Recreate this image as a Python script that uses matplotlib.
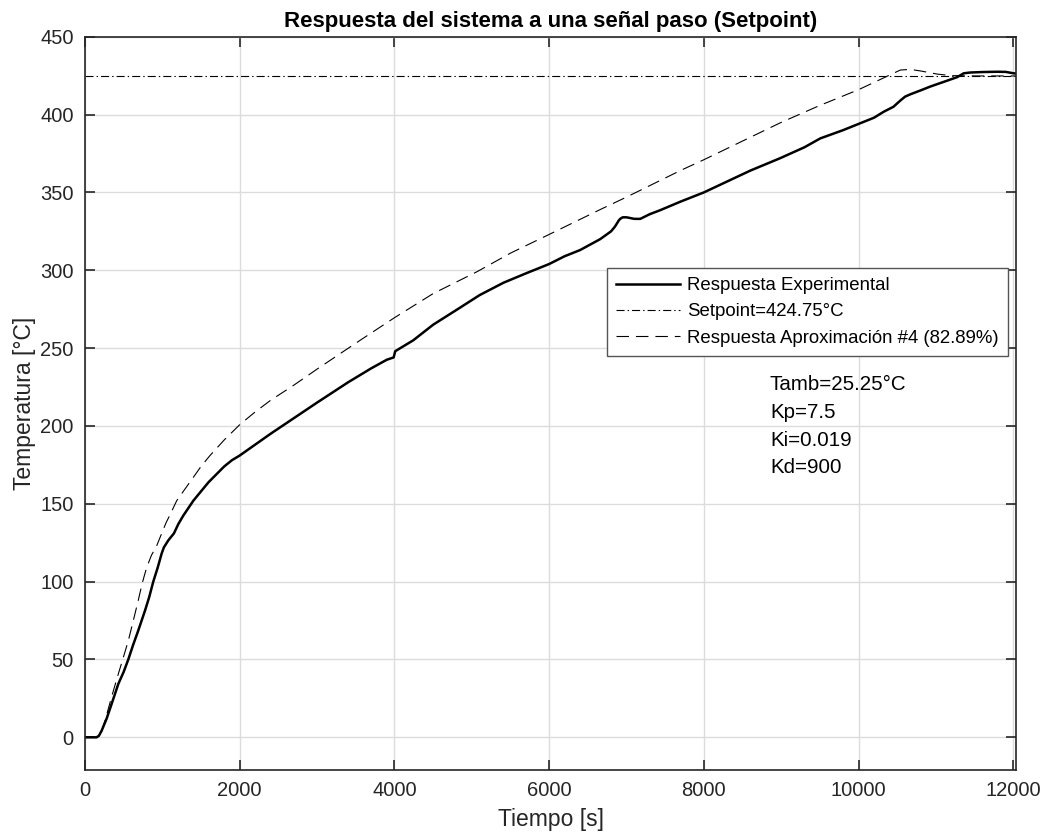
import numpy as np
import matplotlib
matplotlib.use("Agg")
import matplotlib.pyplot as plt

plt.rcParams['font.family'] = ['Liberation Sans', 'DejaVu Sans']
plt.rcParams['lines.scale_dashes'] = False

# respuesta experimental medida (tiempo en s, temperatura en degC)
t_exp = [0, 100, 150, 180, 216, 280, 345, 431, 500, 560, 620, 689, 776, 830, 883,
         940, 991, 1020, 1077, 1150, 1207, 1272, 1401, 1500, 1600, 1700,
         1800, 1900, 2000, 2200, 2400, 2700, 3000, 3400, 3700, 3900, 3990, 4010,
         4243, 4500, 4849, 5100, 5410, 5700, 6000, 6200, 6401, 6660, 6800, 6850,
         6900, 6918, 6950, 7000, 7100, 7177, 7300, 7436, 7694, 8000, 8300, 8600,
         8987, 9300, 9505, 9800, 10000, 10200, 10324, 10450, 10539, 10600, 10668,
         10800, 10927, 11100, 11272, 11358, 11444, 11600, 11789, 11900, 12004, 12040]
temp_exp = [0, 0, 0, 1, 4.3, 12, 21.5, 34.3, 42, 50, 59, 68.6, 81.4, 90, 100,
            109, 118, 122, 126.5, 131, 137, 142.5, 152, 158, 164, 169,
            174, 178, 181, 188, 195, 205, 215, 228, 237, 242.5, 244, 248,
            255, 265, 276, 284, 292, 298, 304, 309, 313, 320, 325, 328,
            332, 333, 334, 334, 333, 333, 336, 338.6, 344, 350, 357, 364,
            372, 379, 384.7, 390, 394, 398, 401.8, 405, 409, 411.5, 413,
            415.5, 418, 421, 424, 426.5, 427, 427.3, 427.5, 427.4, 426.5, 426.3]

# respuesta del modelo aproximado #4
t_apx = [0, 150, 200, 259, 300, 350, 431, 500, 560, 620, 689, 740, 797, 860, 927,
         1000, 1050, 1100, 1186, 1300, 1401, 1500, 1616, 1800, 2004, 2200,
         2400, 2694, 3000, 3300, 3556, 4000, 4500, 5065, 5500, 6000, 6660, 7000,
         7694, 8000, 8500, 9000, 9505, 10000, 10300, 10539, 10668, 10800, 11014,
         11200, 11500, 12040]
temp_apx = [0, 0, 1.5, 10.7, 18, 27, 40.7, 52, 62, 74, 88, 99, 109, 117, 123,
            132, 138, 143, 152, 160, 167, 174, 181, 191, 201, 209,
            216.5, 226, 236.5, 246.5, 255, 269.5, 285, 299, 311, 323, 339, 347,
            364, 371, 383, 395, 406, 416, 423, 428.6, 429, 428, 426,
            425, 424.8, 424.8]

setpoint = 424.75
tamb = 25.25
kp, ki, kd = 7.5, 0.019, 900

dark = '#262626'

fig = plt.figure(figsize=(10.45, 8.38), dpi=100)
ax = fig.add_axes([0.0813, 0.0811, 0.8914, 0.8751])

ax.plot(t_exp, temp_exp, color='black', lw=1.8, label='Respuesta Experimental')
ax.axhline(setpoint, color='black', lw=0.8, dashes=(5.8, 2.2, 1.0, 2.2),
           label='Setpoint=%.2f°C' % setpoint)
ax.plot(t_apx, temp_apx, color='black', lw=0.8, dashes=(9.0, 5.0),
        label='Respuesta Aproximación #4 (82.89%)')

ax.set_xlim(0, 12040)
ax.set_ylim(-21, 450)
ax.set_xticks(np.arange(0, 12001, 2000))
ax.set_yticks(np.arange(0, 451, 50))

ax.grid(True, color='#dcdcdc', lw=1.0)
ax.set_axisbelow(True)
ax.tick_params(direction='in', length=7, width=1.2, colors=dark, labelsize=14.5,
               top=True, right=True, pad=8)
for sp in ax.spines.values():
    sp.set_color(dark)
    sp.set_linewidth(1.2)

ax.set_title('Respuesta del sistema a una señal paso (Setpoint)', fontsize=16,
             fontweight='bold', pad=7)
ax.set_xlabel('Tiempo [s]', fontsize=16.5, color=dark, labelpad=6)
ax.set_ylabel('Temperatura [°C]', fontsize=16.5, color=dark, labelpad=3)

leg = ax.legend(loc='upper right', bbox_to_anchor=(0.991, 0.685), borderaxespad=0,
                fancybox=False, framealpha=1, edgecolor='#555555', fontsize=13.4,
                handlelength=3.4, handletextpad=0.4, labelspacing=0.5,
                borderpad=0.5)
leg.get_frame().set_linewidth(1.0)

params = ['Tamb=%.2f°C' % tamb, 'Kp=%g' % kp, 'Ki=%g' % ki, 'Kd=%g' % kd]
for i, s in enumerate(params):
    ax.text(0.7354, 0.5387 - i * 0.0379, s, transform=ax.transAxes, fontsize=14.8,
            va='top', ha='left', color='black')

fig.savefig('out.png', dpi=100)
